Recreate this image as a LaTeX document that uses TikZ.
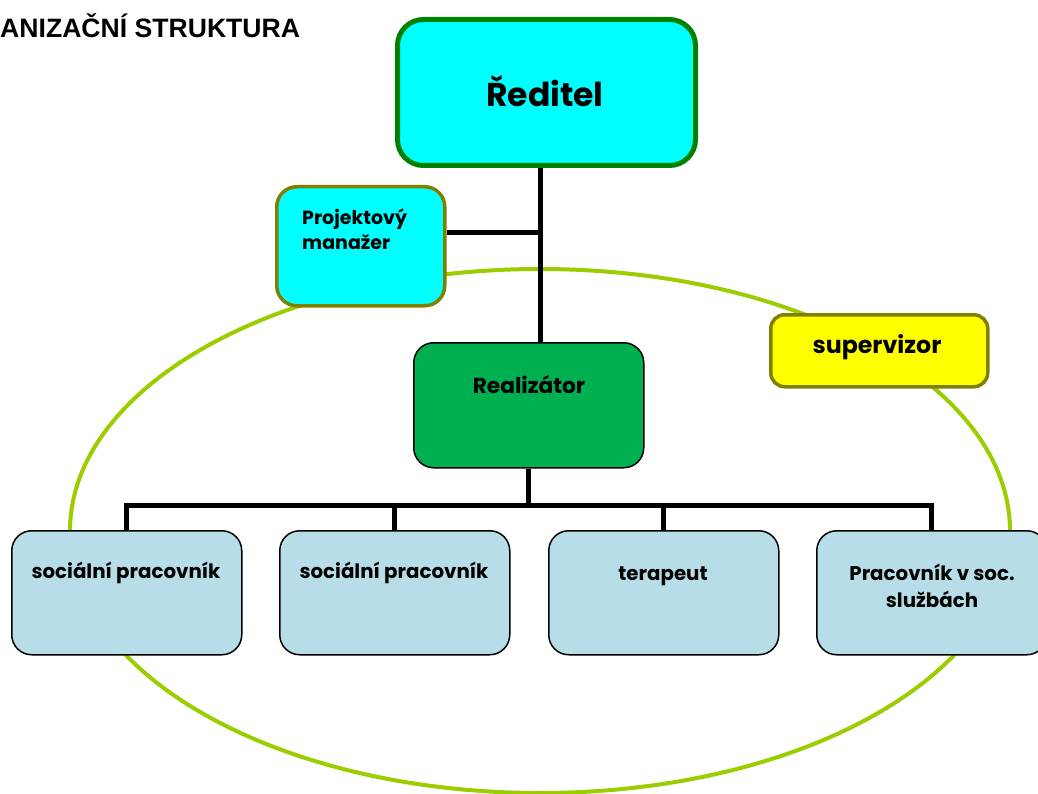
\documentclass[tikz,border=0pt]{standalone}
\usepackage{fontspec}
\setmainfont{Liberation Sans}
\newfontfamily\gothic{Poppins}
\definecolor{ellcol}{RGB}{155,205,0}
\definecolor{dgreen}{RGB}{0,128,0}
\definecolor{olive2}{RGB}{128,128,0}
\definecolor{realgreen}{RGB}{0,176,80}
\definecolor{lblue}{RGB}{183,222,232}
\definecolor{aqua}{RGB}{0,255,255}
\definecolor{yel}{RGB}{255,255,0}
\begin{document}
\begin{tikzpicture}[x=1pt,y=-1pt,
  box/.style={draw, rounded corners=20pt, anchor=north west, inner sep=0pt},
  topbox/.style={box, fill=aqua, draw=dgreen, line width=5pt, rounded corners=26pt},
  pmbox/.style={box, fill=aqua, draw=olive2, line width=3.5pt},
  supbox/.style={box, fill=yel, draw=olive2, line width=3.5pt, rounded corners=14pt},
  realbox/.style={box, fill=realgreen, draw=black, line width=1.5pt},
  staffbox/.style={box, fill=lblue, draw=black, line width=1.5pt, minimum width=230pt, minimum height=124pt},
  lbl/.style={font=\gothic\bfseries\fontsize{19.8}{27}\selectfont, inner sep=0pt, align=center},
  conn/.style={line width=5pt, draw=black}
]
\useasboundingbox (0,0) rectangle (1038,794);
\begin{scope}
\clip (0,0) rectangle (1038,794);
% ellipse
\draw[ellcol, line width=4pt] (540,531) ellipse [x radius=470, y radius=262];
% title
\node[anchor=base west, inner sep=0pt, font=\bfseries\fontsize{26.6}{30}\selectfont] (title) at (0,38) {ANIZAČNÍ STRUKTURA};
% boxes
\node[topbox, minimum width=298pt, minimum height=146pt] (dir) at (395,17) {};
\node[pmbox, minimum width=168pt, minimum height=119pt] (pm) at (275,185) {};
\node[realbox, minimum width=230pt, minimum height=125pt] (real) at (413,342) {};
\node[supbox, minimum width=217pt, minimum height=72pt] (sup) at (769,313) {};
\node[staffbox] (b1) at (11,530) {};
\node[staffbox] (b2) at (279,530) {};
\node[staffbox] (b3) at (548,530) {};
\node[staffbox] (b4) at (816,530) {};
% connectors
\coordinate (spine) at (540,0);
\coordinate (pmjoin) at (540,233);
\draw[conn] (dir.south -| spine) -- (real.north -| spine);
\draw[conn] (pm.east |- pmjoin) -- (pmjoin);
\draw[conn] (real.south) -- ++(0,38);
\draw[conn] (b1.north) -- ++(0,-25) -| (b4.north);
\draw[conn] (b2.north) -- ++(0,-25);
\draw[conn] (b3.north) -- ++(0,-25);
% texts
\node[lbl, anchor=base, font=\gothic\bfseries\fontsize{33}{40}\selectfont] (tdir) at (545,107) {Ředitel};
\node[lbl, anchor=north west, align=left, font=\gothic\bfseries\fontsize{19}{25}\selectfont] (tpm) at (302,209) {Projektový\\manažer};
\node[lbl, anchor=base, font=\gothic\bfseries\fontsize{23.7}{28}\selectfont] (tsup) at (877,353) {supervizor};
\node[lbl, anchor=base, font=\gothic\bfseries\fontsize{21.7}{25}\selectfont] (treal) at (529,393) {Realizátor};
\node[lbl, anchor=base] (t1) at (126,578) {sociální pracovník};
\node[lbl, anchor=base] (t2) at (394,578) {sociální pracovník};
\node[lbl, anchor=base] (t3) at (663,580) {terapeut};
\node[lbl, anchor=north] (t4) at (932,564) {Pracovník v soc.\\službách};
\end{scope}
\end{tikzpicture}
\end{document}
